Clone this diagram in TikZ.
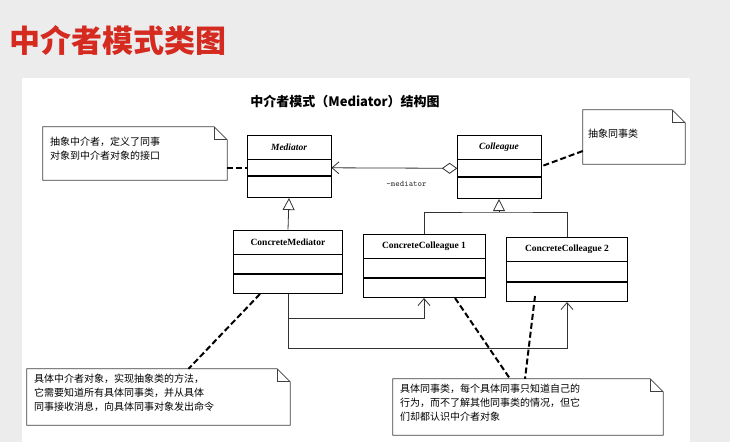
\documentclass[tikz,border=0pt]{standalone}
\usepackage{fontspec}
\setmainfont{Liberation Serif}
\newfontfamily\cjk{Noto Sans CJK SC}
\usetikzlibrary{positioning,arrows.meta}
\definecolor{titlered}{HTML}{D42A20}
\definecolor{pagegray}{HTML}{ECECEC}
\tikzset{
  classname/.style={draw,thick,minimum width=#1,minimum height=24pt,inner sep=0pt,font=\bfseries\fontsize{9.5}{10}\selectfont},
  notetext/.style={align=left,inner sep=0pt,font=\cjk\fontsize{10}{14}\selectfont},
  noteline/.style={thick,black!75},
  link/.style={thick,black!80},
  dashlink/.style={line width=2pt,dash pattern=on 6pt off 3pt},
  inherit/.style={link,-{Triangle[open,length=12pt,width=12pt]}},
  navig/.style={link,-{Straight Barb[length=7pt,width=12pt]}}
}
\newcommand\notepath[1]{% outline with folded corner
  \draw[noteline] (#1.north west) -- ([xshift=-13pt]#1.north east) -- ([yshift=-13pt]#1.north east) -- (#1.south east) -- (#1.south west) -- cycle;
  \draw[noteline] ([xshift=-13pt]#1.north east) |- ([yshift=-13pt]#1.north east);}
\begin{document}
\begin{tikzpicture}[x=1pt,y=-1pt]
\fill[pagegray] (0,0) rectangle (730,442);
\fill[white] (22,78) rectangle (690,442);
\useasboundingbox (0,0) rectangle (730,442);
\node[anchor=west,text=titlered,font=\cjk\bfseries\fontsize{31}{33}\selectfont] (title) at (6,40) {中介者模式类图};
\node[font=\cjk\bfseries\fontsize{13}{15}\selectfont] (subtitle) at (345,101) {中介者模式（\textbf{Mediator}）结构图};
% classes
\node[classname=84pt,font=\bfseries\itshape\fontsize{9.5}{10}\selectfont] (med) at (289,147) {Mediator};
\node[draw,thick,minimum width=84pt,minimum height=16pt,below=0pt of med] (med2) {};
\node[draw,thick,minimum width=84pt,minimum height=21pt,below=0pt of med2] (med3) {};
\node[classname=84pt,font=\bfseries\itshape\fontsize{9.5}{10}\selectfont] (col) at (499,147) {Colleague};
\node[draw,thick,minimum width=84pt,minimum height=17pt,below=0pt of col] (col2) {};
\node[draw,thick,minimum width=84pt,minimum height=21pt,below=0pt of col2] (col3) {};
\node[classname=109pt] (cm) at (288,242) {ConcreteMediator};
\node[draw,thick,minimum width=109pt,minimum height=19pt,below=0pt of cm] (cm2) {};
\node[draw,thick,minimum width=109pt,minimum height=19pt,below=0pt of cm2] (cm3) {};
\node[classname=122pt] (cc1) at (424,246) {ConcreteColleague 1};
\node[draw,thick,minimum width=122pt,minimum height=19pt,below=0pt of cc1] (cc12) {};
\node[draw,thick,minimum width=122pt,minimum height=19pt,below=0pt of cc12] (cc13) {};
\node[classname=121pt] (cc2) at (567,249) {ConcreteColleague 2};
\node[draw,thick,minimum width=121pt,minimum height=20pt,below=0pt of cc2] (cc22) {};
\node[draw,thick,minimum width=121pt,minimum height=19pt,below=0pt of cc22] (cc23) {};
% notes
\node[minimum width=184pt,minimum height=53pt,inner sep=0pt] (n1) at (135,153.5) {};
\node[notetext,anchor=north west] at ([shift={(7pt,-10pt)}]n1.north west) {抽象中介者，定义了同事\\对象到中介者对象的接口};
\notepath{n1}
\node[minimum width=102pt,minimum height=54pt,inner sep=0pt] (n2) at (634,137) {};
\node[notetext,anchor=north west] at ([shift={(5pt,-19pt)}]n2.north west) {抽象同事类};
\notepath{n2}
\node[minimum width=263pt,minimum height=56pt,inner sep=0pt] (n3) at (158.5,397) {};
\node[notetext,anchor=north west] at ([shift={(7pt,-5pt)}]n3.north west) {具体中介者对象，实现抽象类的方法，\\它需要知道所有具体同事类，并从具体\\同事接收消息，向具体同事对象发出命令};
\notepath{n3}
\node[minimum width=270pt,minimum height=56pt,inner sep=0pt] (n4) at (528,407) {};
\node[notetext,anchor=north west] at ([shift={(7pt,-5pt)}]n4.north west) {具体同事类，每个具体同事只知道自己的\\行为，而不了解其他同事类的情况，但它\\们却都认识中介者对象};
\notepath{n4}
% connectors
\draw[navig] (col2.west) -- node[below=9pt,pos=0.4,font=\ttfamily\fontsize{8.5}{9}\selectfont] (lbl) {-mediator} (med2.east);
\draw[link,fill=white] (col2.west) -- ++(-7,-5) -- ++(-7,5) -- ++(7,5) -- cycle;
\draw[inherit] (cm.north) -- (med3.south);
\coordinate (bus) at (col3.south |- 0,212);
\draw[link] (cc1.north) |- (bus) -| (cc2.north);
\draw[inherit] (bus) -- (col3.south);
\coordinate (r1) at (288,318);
\coordinate (r2) at (288,348);
\draw[link] (cm3.south) -- (r2);
\draw[navig] (r1) -| (cc13.south);
\draw[navig] (r2) -| (cc23.south);
\draw[dashlink] (n1.east |- med2.west) -- (med2.west);
\draw[dashlink] (n2.west) ++(0,14) -- ([yshift=2pt]col2.east);
\draw[dashlink] ([xshift=-28pt]cm3.south) -- ([xshift=30pt]n3.north);
\draw[dashlink] ([xshift=31pt]cc13.south) -- ([xshift=-18pt]n4.north);
\draw[dashlink] ([xshift=-32pt,yshift=6pt]cc23.south) -- ([xshift=-3pt]n4.north);
\end{tikzpicture}
\end{document}
